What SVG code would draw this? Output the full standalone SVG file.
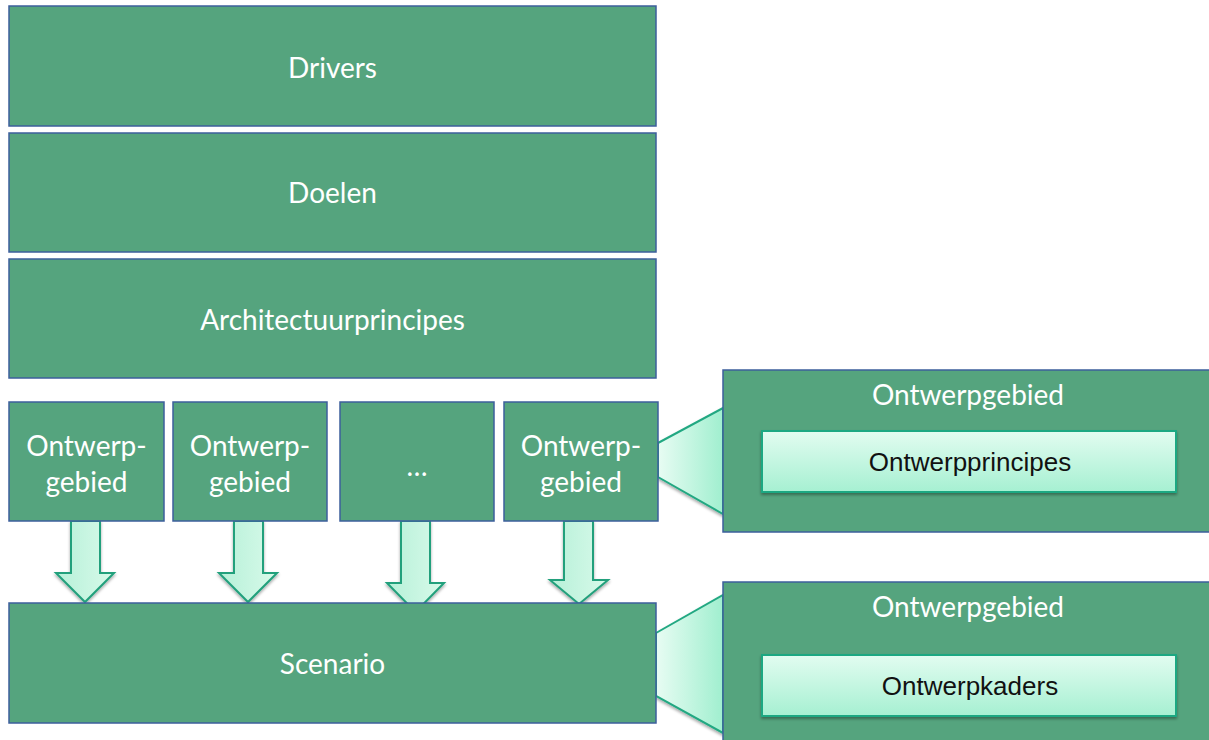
<svg xmlns="http://www.w3.org/2000/svg" width="1209" height="740" viewBox="0 0 1209 740">
<defs>
<style>
.box{fill:#55a47e;stroke:#3d5f9c;stroke-width:1.5}
.t{font-family:Lato,"Open Sans","Liberation Sans",sans-serif;fill:#ffffff;font-size:28px;text-anchor:middle;dominant-baseline:central}
.it{font-family:"Liberation Sans",Arial,sans-serif;fill:#111111;font-size:26px;text-anchor:middle;dominant-baseline:central}
.inner{fill:url(#gv);stroke:#1fa882;stroke-width:2}
.arrow{fill:url(#gh);stroke:#22a07c;stroke-width:2;stroke-linejoin:miter}
.trap{fill:url(#gt);stroke:#22a882;stroke-width:2}
</style>
<linearGradient id="gv" x1="0" y1="0" x2="0" y2="1">
<stop offset="0" stop-color="#e2fcf0"/><stop offset="1" stop-color="#a6f0d2"/>
</linearGradient>
<linearGradient id="gh" x1="0" y1="0" x2="1" y2="0">
<stop offset="0" stop-color="#b6f0d8"/><stop offset="1" stop-color="#d8faea"/>
</linearGradient>
<linearGradient id="gt" x1="0" y1="0" x2="1" y2="0">
<stop offset="0" stop-color="#e8fcf3"/><stop offset="1" stop-color="#a0efcf"/>
</linearGradient>
<filter id="sh" x="-10%" y="-10%" width="120%" height="130%">
<feGaussianBlur in="SourceAlpha" stdDeviation="1.5"/>
<feOffset dx="0" dy="2" result="b"/>
<feComponentTransfer><feFuncA type="linear" slope="0.35"/></feComponentTransfer>
<feMerge><feMergeNode/><feMergeNode in="SourceGraphic"/></feMerge>
</filter>
</defs>
<g id="connectors">
<polygon class="trap" points="658,443 723,408 723,514 658,477" filter="url(#sh)"/>
<polygon class="trap" points="656,633 723,595 723,733 656,696" filter="url(#sh)"/>
<polygon class="arrow" filter="url(#sh)" points="71,521 100,521 100,573 114,573 85,602 56,573 71,573"/>
<polygon class="arrow" filter="url(#sh)" points="234,521 263,521 263,573 277,573 248,602 219,573 234,573"/>
<polygon class="arrow" filter="url(#sh)" points="401,521 430,521 430,583 444,583 415.5,612 387,583 401,583"/>
<polygon class="arrow" filter="url(#sh)" points="564,521 593,521 593,580 608,580 579,604 550,580 564,580"/>
</g>
<g id="drivers"><rect class="box" x="9" y="6" width="647" height="120"/><text class="t" x="332.5" y="67">Drivers</text></g>
<g id="doelen"><rect class="box" x="9" y="133" width="647" height="119"/><text class="t" x="332.5" y="192">Doelen</text></g>
<g id="architectuurprincipes"><rect class="box" x="9" y="259" width="647" height="119"/><text class="t" x="332.5" y="319">Architectuurprincipes</text></g>
<g id="og1"><rect class="box" x="9" y="402" width="155" height="119"/><text class="t" x="86.5" y="445">Ontwerp-</text><text class="t" x="86.5" y="481">gebied</text></g>
<g id="og2"><rect class="box" x="173" y="402" width="154" height="119"/><text class="t" x="250" y="445">Ontwerp-</text><text class="t" x="250" y="481">gebied</text></g>
<g id="og3"><rect class="box" x="340" y="402" width="154" height="119"/><text class="t" x="417" y="465">…</text></g>
<g id="og4"><rect class="box" x="504" y="402" width="154" height="119"/><text class="t" x="581" y="445">Ontwerp-</text><text class="t" x="581" y="481">gebied</text></g>
<g id="scenario"><rect class="box" x="9" y="603" width="647" height="120"/><text class="t" x="332.5" y="663">Scenario</text></g>
<g id="callout1"><rect class="box" x="723" y="370" width="487" height="162"/><text class="t" x="968" y="394">Ontwerpgebied</text>
<rect class="inner" filter="url(#sh)" x="762" y="431" width="414" height="61"/><text class="it" x="970" y="462">Ontwerpprincipes</text></g>
<g id="callout2"><rect class="box" x="723" y="582" width="487" height="170"/><text class="t" x="968" y="606">Ontwerpgebied</text>
<rect class="inner" filter="url(#sh)" x="762" y="655" width="414" height="61"/><text class="it" x="970" y="686">Ontwerpkaders</text></g>
</svg>
